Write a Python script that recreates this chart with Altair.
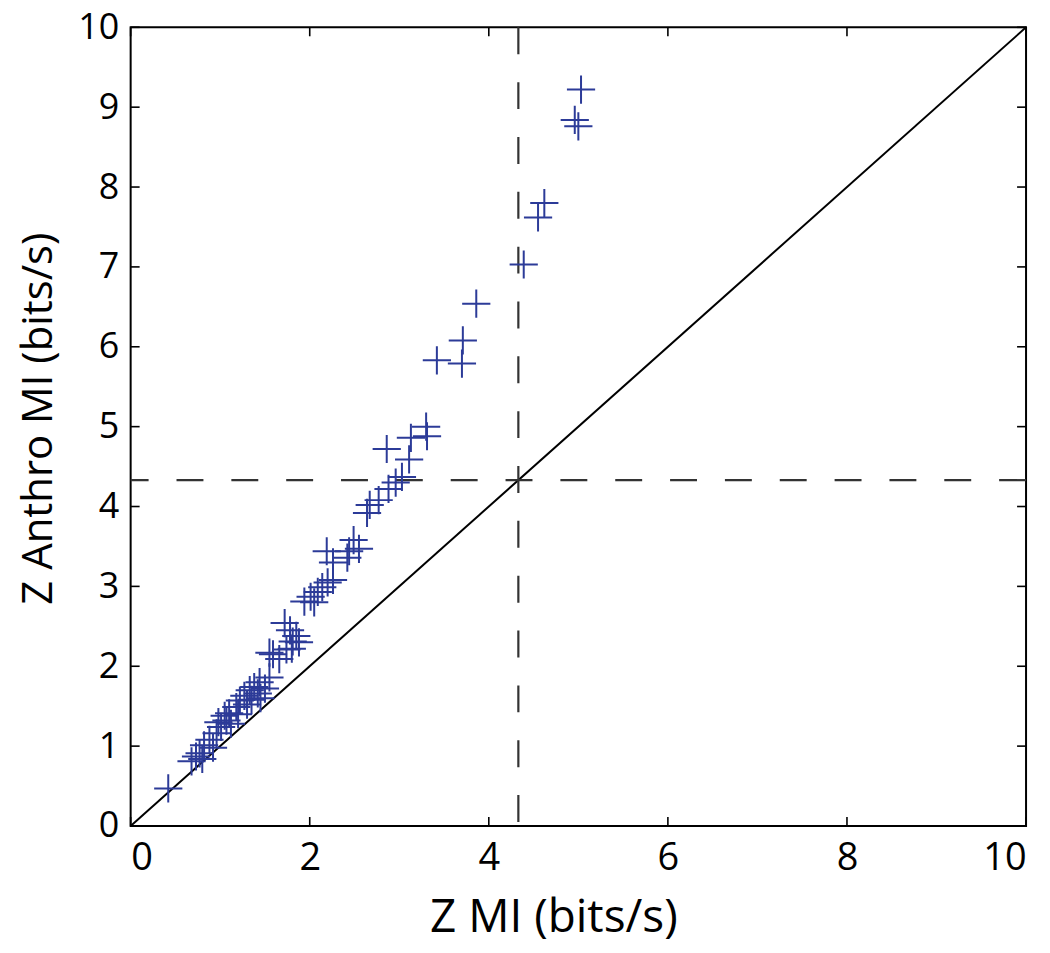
import altair as alt
import pandas as pd

# Scatter data (Z MI vs Z Anthro MI)
zmi = [5.03, 4.96, 5.00, 4.62, 4.55, 4.39, 3.86, 3.71, 3.70, 3.42,
       3.30, 3.31, 3.13, 2.86, 3.11, 3.03, 2.96, 2.88, 2.77, 2.67,
       2.64, 2.49, 2.55, 2.19, 2.44, 2.42, 2.26, 2.26, 2.20, 2.14,
       2.09, 2.01, 1.94, 2.05, 1.72, 1.85, 1.81, 1.74, 1.66, 1.59,
       1.55, 1.44, 1.38, 1.33, 1.27, 1.22, 1.18, 1.10, 1.07, 1.01,
       0.96, 0.88, 0.82, 0.77, 0.73, 0.68, 0.42, 0.98, 1.05, 1.12,
       1.20, 1.30, 1.42, 1.50, 1.55, 1.80, 1.78, 1.88, 0.92, 0.80,
       1.45, 1.35]
zanthro = [9.22, 8.84, 8.76, 7.80, 7.62, 7.03, 6.54, 6.08, 5.79, 5.83,
           5.00, 4.88, 4.86, 4.72, 4.59, 4.37, 4.30, 4.22, 4.08, 4.02,
           3.92, 3.58, 3.47, 3.44, 3.44, 3.36, 3.30, 3.08, 3.05, 2.99,
           2.93, 2.87, 2.81, 2.80, 2.54, 2.38, 2.31, 2.21, 2.09, 2.15,
           1.86, 1.80, 1.74, 1.70, 1.63, 1.57, 1.49, 1.41, 1.32, 1.24,
           1.16, 1.08, 1.01, 0.91, 0.87, 0.81, 0.47, 1.30, 1.38, 1.28,
           1.40, 1.52, 1.66, 1.72, 2.17, 2.22, 2.45, 2.30, 0.98, 0.84,
           1.60, 1.58]

threshold = 4.33
diag_x = [0, 10]
x_ticks = [0, 2, 4, 6, 8, 10]
y_ticks = [0, 1, 2, 3, 4, 5, 6, 7, 8, 9, 10]

W, H = 898, 801
FONT = "Open Sans"

pts = pd.DataFrame({"x": zmi, "y": zanthro})
diag = pd.DataFrame({"x": diag_x, "y": diag_x})
thr = pd.DataFrame({"v": [threshold]})
xt = pd.DataFrame({"t": x_ticks})
yt = pd.DataFrame({"t": y_ticks})

xscale = alt.Scale(domain=[0, 10], nice=False, zero=False)
yscale = alt.Scale(domain=[0, 10], nice=False, zero=False)

xaxis = alt.Axis(values=x_ticks, format="d", ticks=False, domain=False, grid=False,
                 labelFontSize=38, labelFont=FONT, labelColor="black",
                 labelPadding=14, title="Z MI (bits/s)", titleFont=FONT,
                 titleFontSize=46, titleFontWeight="normal", titleColor="black",
                 titleX=424, titleY=106, titleBaseline="alphabetic")
yaxis = alt.Axis(values=y_ticks, format="d", ticks=False, domain=False, grid=False,
                 labelFontSize=36, labelFont=FONT, labelColor="black",
                 labelPadding=12, title="Z Anthro MI (bits/s)", titleFont=FONT,
                 titleFontSize=42, titleFontWeight="normal", titleColor="black",
                 titleX=-79, titleY=392, titleAngle=-90, titleAlign="center",
                 titleBaseline="alphabetic")

cross = "M-1,0L1,0M0,-1L0,1"

points = alt.Chart(pts).mark_point(
    shape=cross, size=800, filled=False, stroke="#2c3b98", strokeWidth=2,
    opacity=1
).encode(
    x=alt.X("x:Q", scale=xscale, axis=xaxis),
    y=alt.Y("y:Q", scale=yscale, axis=yaxis),
)

diag_line = alt.Chart(diag).mark_line(color="black", strokeWidth=2).encode(
    x=alt.X("x:Q", scale=xscale), y=alt.Y("y:Q", scale=yscale)
)

vline = alt.Chart(thr).mark_rule(color="#333333", strokeWidth=2.2,
                                 strokeDash=[27, 28]).encode(
    x=alt.X("v:Q", scale=xscale)
)
hline = alt.Chart(thr).mark_rule(color="#333333", strokeWidth=2.2,
                                 strokeDash=[27, 28]).encode(
    y=alt.Y("v:Q", scale=yscale)
)

tick_len = 9
bottom_ticks = alt.Chart(xt).mark_rule(color="black", strokeWidth=1.6).encode(
    x=alt.X("t:Q", scale=xscale), y=alt.value(H), y2=alt.value(H - tick_len)
)
top_ticks = alt.Chart(xt).mark_rule(color="black", strokeWidth=1.6).encode(
    x=alt.X("t:Q", scale=xscale), y=alt.value(0), y2=alt.value(tick_len)
)
left_ticks = alt.Chart(yt).mark_rule(color="black", strokeWidth=1.6).encode(
    y=alt.Y("t:Q", scale=yscale), x=alt.value(0), x2=alt.value(tick_len)
)
right_ticks = alt.Chart(yt).mark_rule(color="black", strokeWidth=1.6).encode(
    y=alt.Y("t:Q", scale=yscale), x=alt.value(W), x2=alt.value(W - tick_len)
)

chart = alt.layer(
    diag_line, vline, hline, points,
    bottom_ticks, top_ticks, left_ticks, right_ticks
).properties(
    width=W, height=H,
    autosize=alt.AutoSizeParams(type="none"),
    padding={"left": 123, "top": 18, "right": 16, "bottom": 118},
    background="white",
).configure_view(
    stroke="black", strokeWidth=2
)

chart.save("out.html", embed_options={"renderer": "svg", "actions": False})
